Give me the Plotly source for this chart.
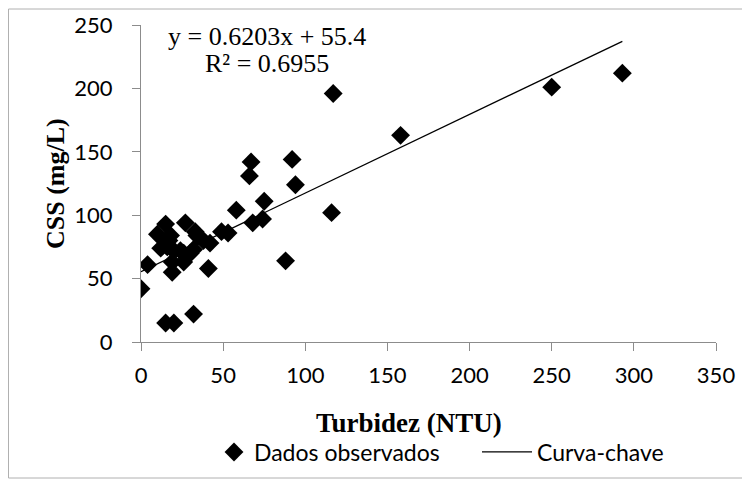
import plotly.graph_objects as go

# Observed data (Turbidez NTU, CSS mg/L)
turbidez = [0, 4, 10, 12, 15, 18, 16, 17, 15, 20, 19, 19, 20, 24, 26, 26, 27, 30, 32, 32,
            33, 34, 38, 42, 41, 49, 53, 58, 66, 67, 68, 74, 75, 88, 92, 94, 116, 117, 158, 250, 293]
css = [42, 61, 85, 74, 93, 84, 75, 80, 15, 15, 63, 55, 72, 72, 63, 70, 94, 70, 22, 73,
       87, 84, 80, 78, 58, 87, 86, 104, 131, 142, 94, 97, 111, 64, 144, 124, 102, 196, 163, 201, 212]

slope = 0.6203
intercept = 55.4
r2 = 0.6955

x_ticks = [0, 50, 100, 150, 200, 250, 300, 350]
y_ticks = [0, 50, 100, 150, 200, 250]

fit_x = [min(turbidez), max(turbidez)]
fit_y = [slope * v + intercept for v in fit_x]

# page body adds an 8px offset; size the figure so it fills the 750x480 view
OFF = 8
W, H = 750 - OFF, 480 - OFF
ML, MR, MT, MB = 141 - OFF, 34, 25 - OFF, 138
PW = W - ML - MR
PH = H - MT - MB

def px(xp):  # viewport pixel -> paper x
    return (xp - OFF - ML) / PW

def py(yp):  # viewport pixel -> paper y
    return (H - MB - (yp - OFF)) / PH

fig = go.Figure()
fig.add_trace(go.Scatter(
    x=turbidez, y=css, mode="markers", name="Dados observados", legend="legend",
    marker=dict(symbol="diamond", size=14.5, color="black", line=dict(width=0)),
))
fig.add_trace(go.Scatter(
    x=fit_x, y=fit_y, mode="lines", name="Curva-chave", legend="legend2",
    line=dict(color="black", width=1.3),
))

axis_common = dict(
    showgrid=False, zeroline=False, showline=True, linecolor="#8c8c8c", linewidth=1,
    ticks="outside", ticklen=8, tickcolor="#8c8c8c", tickwidth=1,
    tickfont=dict(family="Lato", size=22, color="black"),
)
fig.update_xaxes(range=[0, 350], tickvals=x_ticks, ticklabelstandoff=6, **axis_common)
fig.update_yaxes(range=[0, 250], tickvals=y_ticks, ticklabelstandoff=15, **axis_common)

annotations = [
    dict(text=f"y = {slope}x + {intercept}", x=px(267), y=py(36), xref="paper", yref="paper",
         showarrow=False, xanchor="center", yanchor="middle",
         font=dict(family="Liberation Serif", size=26, color="black")),
    dict(text=f"R² = {r2}", x=px(267), y=py(63), xref="paper", yref="paper",
         showarrow=False, xanchor="center", yanchor="middle",
         font=dict(family="Liberation Serif", size=26, color="black")),
    dict(text="<b>Turbidez (NTU)</b>", x=px(409), y=py(423), xref="paper", yref="paper",
         showarrow=False, xanchor="center", yanchor="middle",
         font=dict(family="Liberation Serif", size=27, color="black")),
    dict(text="<b>CSS (mg/L)</b>", x=px(55), y=py(184), xref="paper", yref="paper",
         showarrow=False, xanchor="center", yanchor="middle", textangle=-90,
         font=dict(family="Liberation Serif", size=26, color="black")),
]

legend_common = dict(orientation="h", yanchor="middle", xanchor="left",
                     font=dict(family="Lato", size=23, color="black"),
                     bgcolor="rgba(0,0,0,0)")

fig.update_layout(
    width=W, height=H,
    margin=dict(l=ML, r=MR, t=MT, b=MB, autoexpand=False),
    paper_bgcolor="white", plot_bgcolor="white",
    showlegend=True,
    legend=dict(x=px(214), y=py(452), **legend_common),
    legend2=dict(x=px(477), y=py(452), itemwidth=50, **legend_common),
    annotations=annotations,
    shapes=[dict(type="rect", xref="paper", yref="paper",
                 x0=px(8.5), x1=px(748), y0=py(478), y1=py(9),
                 line=dict(color="#b0b0b0", width=1), fillcolor="rgba(0,0,0,0)", layer="below")],
)

fig.write_html("out.html")
